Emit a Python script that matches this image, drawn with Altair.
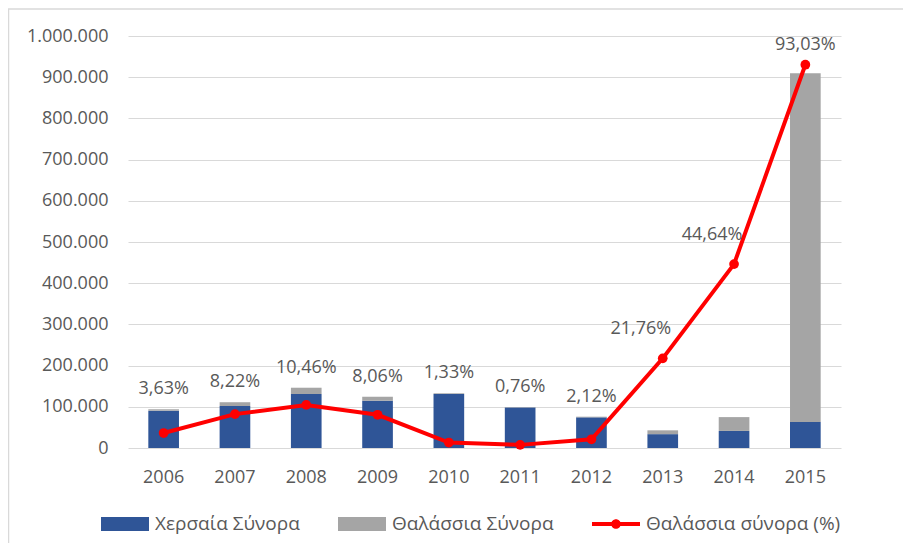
import altair as alt
import pandas as pd

years = ["2006", "2007", "2008", "2009", "2010", "2011", "2012", "2013", "2014", "2015"]
land = [90600, 102000, 131000, 114500, 131000, 98000, 74400, 33600, 41500, 63400]
sea = [3400, 9100, 15300, 10000, 1800, 750, 1600, 9300, 33500, 846000]
pct = [3.63, 8.22, 10.46, 8.06, 1.33, 0.76, 2.12, 21.76, 44.64, 93.03]

series_names = ["Χερσαία Σύνορα", "Θαλάσσια Σύνορα", "Θαλάσσια σύνορα (%)"]
colors = ["#2F5597", "#A5A5A5", "#FF0000"]

df = pd.DataFrame({"year": years, "land": land, "sea": sea, "pct": pct})

FONT = "Open Sans"
TXT = "#595959"

xenc = alt.X("year:O", title=None,
             scale=alt.Scale(paddingInner=0.57, paddingOuter=0.285),
             axis=alt.Axis(labelAngle=0, domain=False, ticks=False, labelPadding=20,
                           labelFontSize=18, labelColor=TXT, labelFont=FONT))

rect_path = "M-1,-0.29H1V0.29H-1Z"
line_path = "M-1,-0.08H1V0.08H-1Z M0.2,0A0.2,0.2,0,1,1,-0.2,0A0.2,0.2,0,1,1,0.2,0Z"

base = alt.Chart(df)

bars = base.transform_fold(["land", "sea"], as_=["key", "value"]).transform_calculate(
    series=f"datum.key === 'land' ? '{series_names[0]}' : '{series_names[1]}'",
    ord="datum.key === 'land' ? 0 : 1",
).mark_bar().encode(
    x=xenc,
    y=alt.Y("value:Q", title=None, stack="zero",
            scale=alt.Scale(domain=[0, 1000000], nice=False),
            axis=alt.Axis(values=list(range(0, 1000001, 100000)), domain=False, ticks=False,
                          labelPadding=20, labelFontSize=18, labelColor=TXT, labelFont=FONT,
                          gridColor="#D9D9D9", gridWidth=1,
                          labelExpr="replace(replace(format(datum.value, ','), ',', '.'), ',', '.')")),
    color=alt.Color("series:N", title=None,
                    scale=alt.Scale(domain=series_names, range=colors),
                    legend=alt.Legend(
                        orient="none", legendX=-27, legendY=464, direction="horizontal",
                        columns=3, columnPadding=38, labelOffset=6, labelLimit=320,
                        symbolSize=2304, symbolStrokeWidth=0, padding=0,
                        labelFontSize=19, labelColor=TXT, labelFont=FONT,
                        symbolType={"expr": f"datum.value === '{series_names[2]}' ? '{line_path}' : '{rect_path}'"})),
    order=alt.Order("ord:Q"),
)

yright = alt.Y("p:Q", title=None, scale=alt.Scale(domain=[0, 1], nice=False),
               axis=alt.Axis(orient="right", format=".0%", values=[i / 10 for i in range(11)],
                             domain=False, ticks=False, grid=False, labelPadding=21,
                             labelFontSize=18, labelColor=TXT, labelFont=FONT))

line_base = base.transform_calculate(
    p="datum.pct / 100",
    lab="replace(format(datum.pct / 100, '.2%'), '.', ',')",
    anchor="max(datum.pct / 100, (datum.land + datum.sea) / 1000000)",
)

line = line_base.mark_line(color="#FF0000", strokeWidth=4).encode(x=xenc, y=yright)
points = line_base.mark_point(filled=True, color="#FF0000", size=95, opacity=1).encode(x=xenc, y=yright)

lab_y = alt.Y("anchor:Q", scale=alt.Scale(domain=[0, 1], nice=False), axis=None)
labels_c = line_base.transform_filter("datum.pct < 15 || datum.pct > 90").mark_text(
    dy=-20, fontSize=18, color=TXT, font=FONT, baseline="middle"
).encode(x=xenc, y=lab_y, text="lab:N")
labels_l = line_base.transform_filter("datum.pct >= 15 && datum.pct <= 90").mark_text(
    dy=-29, dx=-22, fontSize=18, color=TXT, font=FONT, baseline="middle"
).encode(x=xenc, y=lab_y, text="lab:N")

border = alt.Chart(alt.Data(values=[{"a": 1}])).mark_rect(
    fill="transparent", stroke="#D9D9D9", strokeWidth=1.5
).encode(x=alt.value(-119.5), x2=alt.value(1000), y=alt.value(-27), y2=alt.value(700))

right_layer = alt.layer(line, points, labels_c, labels_l)

chart = alt.layer(border, bars, right_layer).resolve_scale(y="independent").properties(
    width=713, height=412,
    autosize=alt.AutoSizeParams(type="none"),
    padding={"left": 120, "top": 28, "right": 62, "bottom": 95},
).configure_view(strokeWidth=0)

chart.save("out.html", embed_options={"renderer": "svg", "actions": False})
